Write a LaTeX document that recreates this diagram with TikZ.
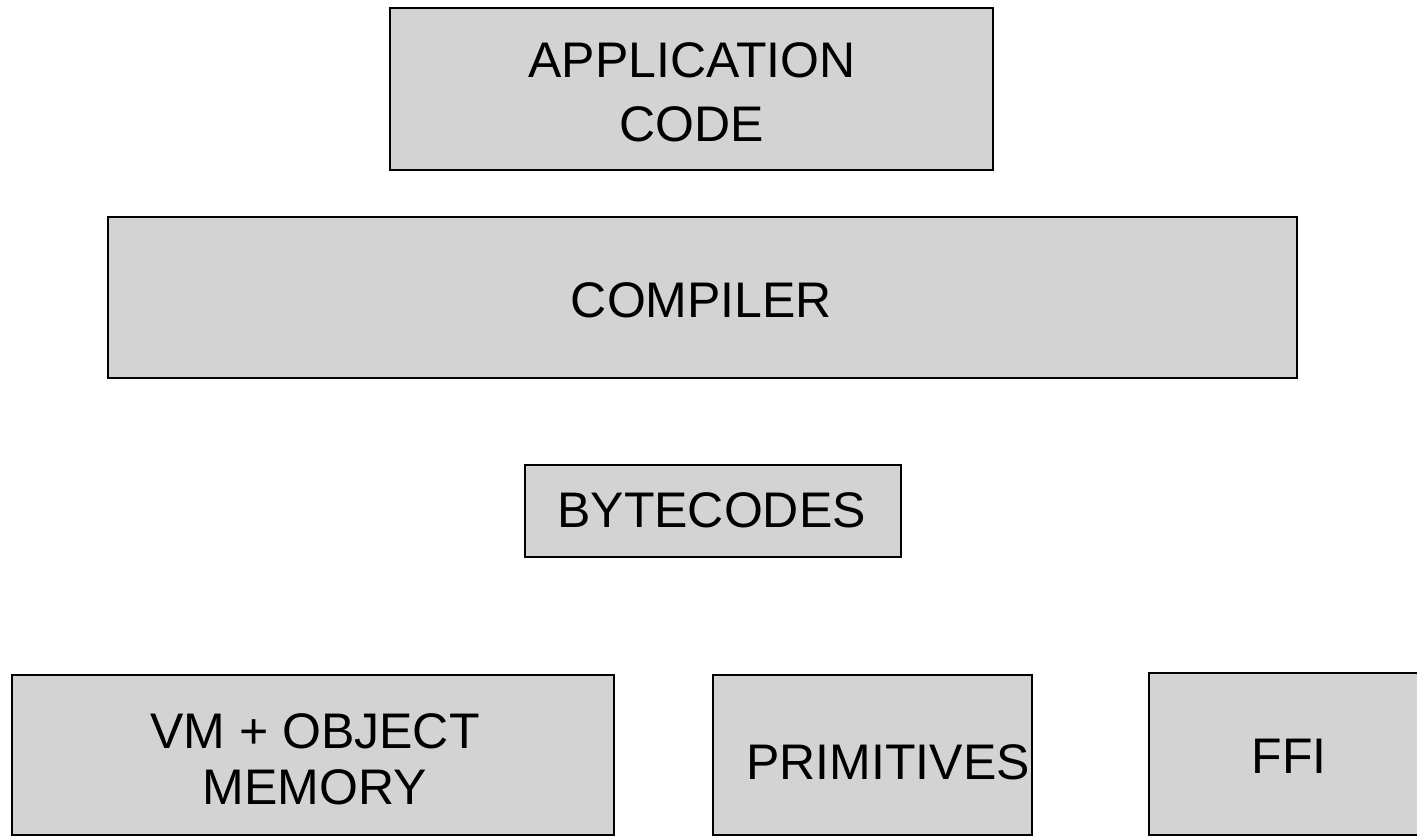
\documentclass[tikz,border=0pt]{standalone}
\usepackage{fontspec}
\setmainfont{Liberation Sans}
\definecolor{boxgray}{HTML}{D3D3D3}
\tikzset{
    layerbox/.style={draw=black, fill=boxgray, line width=1pt, inner sep=0pt},
    layertext/.style={inner sep=0pt, align=center, font=\fontsize{25}{32}\selectfont}
}

\begin{document}
\begin{tikzpicture}[x=0.5pt, y=-0.5pt]
    \useasboundingbox[fill=white] (0,0) rectangle (1417,837);

    % boxes
    \node[layerbox, minimum width=301.5pt, minimum height=81pt] (app) at (691.5, 89) {};
    \node[layerbox, minimum width=594.5pt, minimum height=80.5pt] (compiler) at (702.5, 297.5) {};
    \node[layerbox, minimum width=188pt, minimum height=46pt] (bytecodes) at (713, 511) {};
    \node[layerbox, minimum width=301pt, minimum height=80pt] (vm) at (313, 755) {};
    \node[layerbox, minimum width=159.5pt, minimum height=80pt] (prims) at (872.5, 755) {};
    \node[layerbox, minimum width=135pt, minimum height=81pt] (ffi) at (1284, 754) {};

    % labels
    \node[layertext] (app-text) at (692, 92) {APPLICATION\\CODE};
    \node[layertext] (compiler-text) at (701.5, 300) {COMPILER};
    \node[layertext] (bytecodes-text) at (711.5, 510) {BYTECODES};
    \node[layertext, font=\fontsize{25}{28}\selectfont] (vm-text) at (315, 759) {VM + OBJECT\\MEMORY};
    \node[layertext] (prims-text) at (888, 762.5) {PRIMITIVES};
    \node[layertext] (ffi-text) at (1289, 756.5) {FFI};
\end{tikzpicture}
\end{document}
